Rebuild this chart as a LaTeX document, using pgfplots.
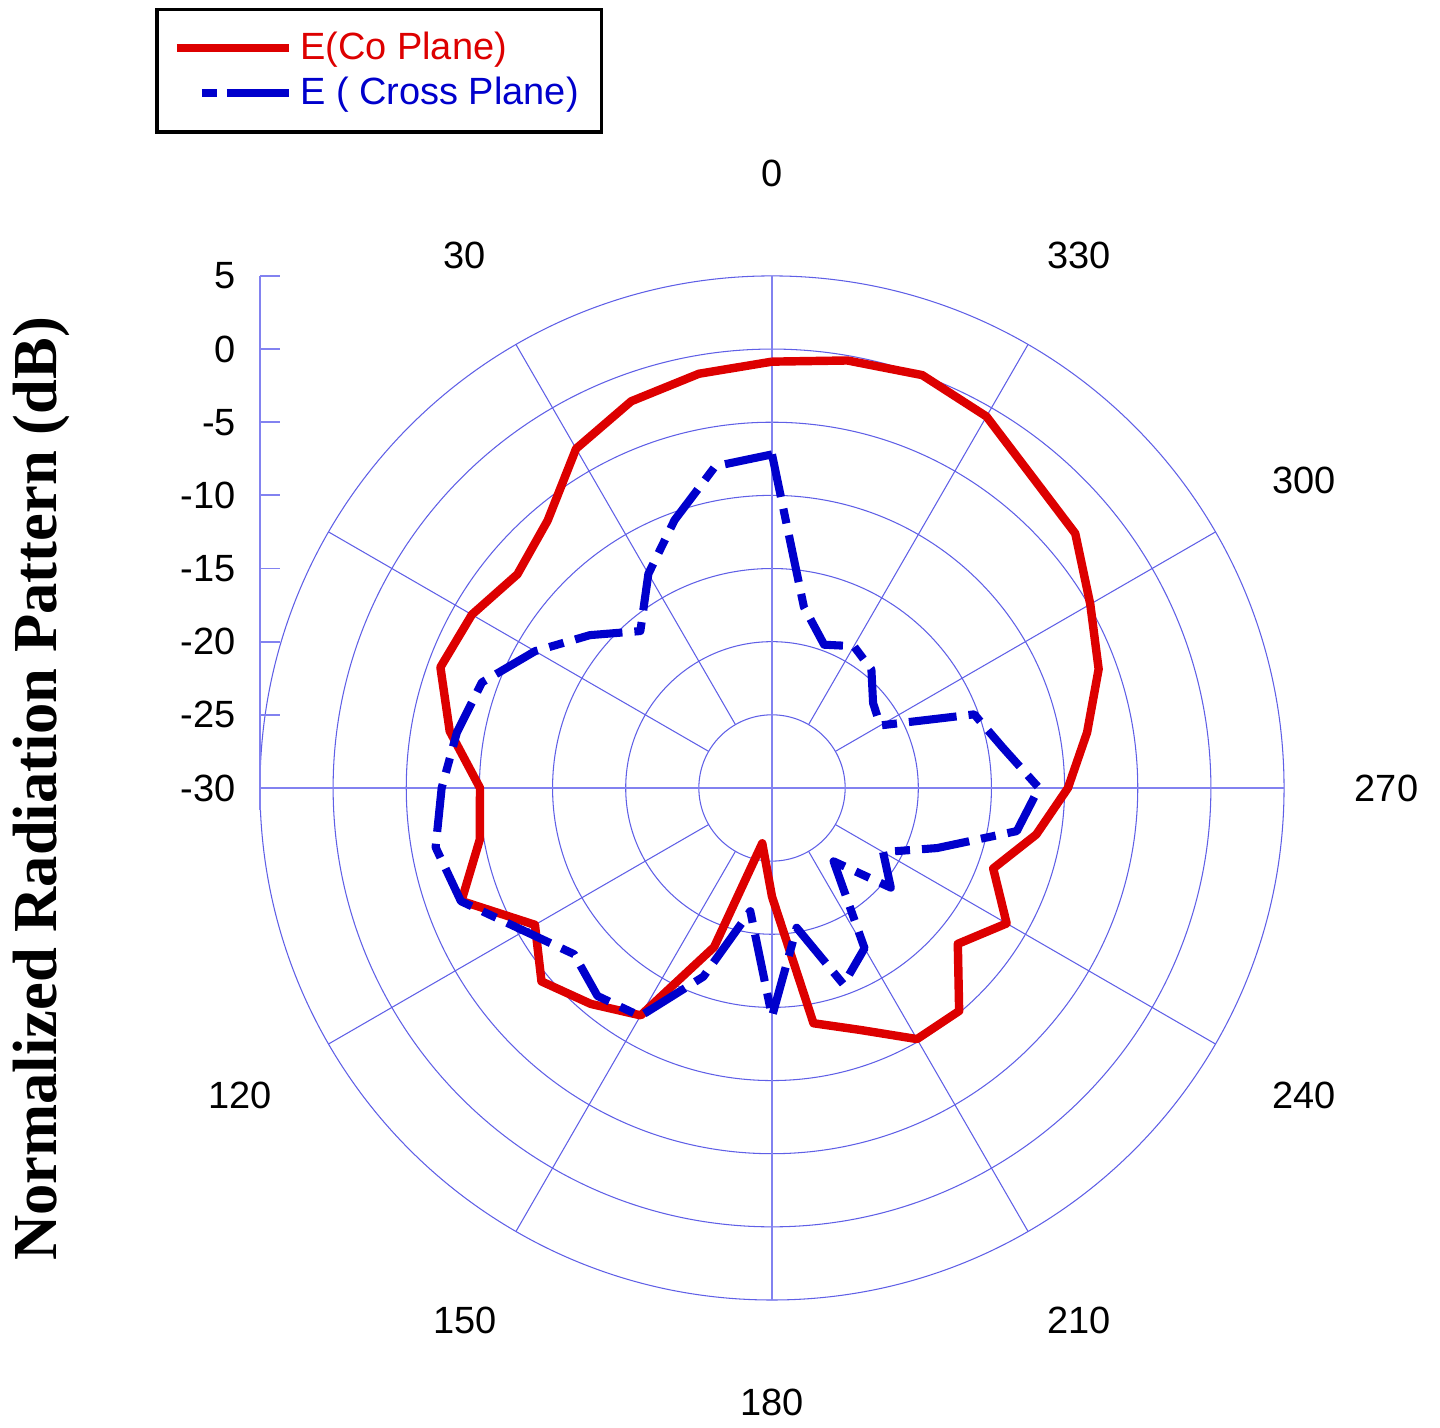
\documentclass[border=0pt]{standalone}
\usepackage{pgfplots}
\pgfplotsset{compat=1.18}
\usepackage{pgfplotstable}
\usepackage{fontspec}
\setmainfont{Liberation Sans}
\newfontfamily\serifbf{Liberation Serif}

\definecolor{cored}{RGB}{221,0,0}
\definecolor{crossblue}{RGB}{0,0,204}
\definecolor{gridblue}{RGB}{95,95,230}
\definecolor{axisblue}{RGB}{130,130,240}

\pgfplotsset{
  redleg/.style={legend image code/.code={\draw[##1] (0cm,0cm) -- (1.12cm,0cm);}},
  blueleg/.style={legend image code/.code={\path (0cm,0cm); \draw[##1, dash pattern=on 0.15cm off 0.1cm on 0.62cm] (0.25cm,0cm) -- (1.12cm,0cm);}},
}

% angle (deg, counter-clockwise from top), level (dB)
\pgfplotstableread{
ang dB
0 -0.86
10 -1.25
20 -1.87
30 -3.22
40 -6.14
50 -7.28
60 -6.31
70 -5.88
80 -7.63
90 -10.04
100 -9.72
110 -7.41
120 -11.29
130 -9.43
140 -10.73
150 -12.05
160 -18.43
170 -26.16
180 -22.57
190 -13.67
200 -12.40
210 -10.18
220 -10.10
230 -13.42
240 -11.48
250 -13.91
260 -11.66
270 -9.77
280 -8.13
290 -6.24
300 -4.88
310 -2.94
320 -2.28
330 -0.68
340 0.03
350 -0.33
360 -0.86
}\copol

\pgfplotstableread{
ang dB
0 -7.20
10 -7.67
20 -10.52
30 -13.10
40 -16.00
50 -13.75
60 -11.30
70 -8.90
80 -8.13
90 -7.42
100 -6.65
110 -7.37
120 -10.45
130 -12.33
140 -11.44
150 -11.99
160 -16.27
170 -21.45
180 -14.37
190 -20.30
200 -15.71
210 -17.35
220 -23.45
230 -19.40
240 -21.23
250 -17.99
260 -13.01
270 -11.75
280 -14.00
290 -15.29
300 -21.45
310 -20.98
320 -19.43
330 -18.81
340 -19.58
350 -17.44
360 -7.20
}\crosspol

\begin{document}
\begin{tikzpicture}[font=\fontsize{10.8}{13}\selectfont]
\begin{axis}[
  scale only axis, width=10.24cm, height=10.24cm,
  xmin=-35, xmax=35, ymin=-35, ymax=35,
  hide axis, clip=false,
  legend cell align=left,
  legend style={at={(-0.1025,1.2617)}, anchor=north west, draw=black,
    line width=1pt, inner xsep=0.16cm, inner ysep=0.15cm, row sep=-0.015cm,
    font=\fontsize{10.8}{13}\selectfont},
]
% grid circles
\pgfplotsinvokeforeach{5,10,...,35}{
  \draw[gridblue, line width=0.3pt] (axis cs:0,0) circle[radius=#1];
}
% spokes
\pgfplotsinvokeforeach{30,60,120,150,210,240,300,330}{
  \draw[gridblue, line width=0.3pt] (axis cs:{-5*sin(#1)},{5*cos(#1)}) -- (axis cs:{-35*sin(#1)},{35*cos(#1)});
}
% main axes
\draw[axisblue, line width=0.8pt] (axis cs:-35,0) -- (axis cs:35,0);
\draw[axisblue, line width=0.8pt] (axis cs:0,-35) -- (axis cs:0,35);
% radial scale at left
\draw[axisblue, line width=0.5pt] (axis cs:-35,35) -- (axis cs:-35,-1.5);
\pgfplotsinvokeforeach{0,5,...,35}{
  \draw[axisblue, line width=0.5pt] (axis cs:-35,#1) -- (axis cs:-33.63,#1);
  \node[anchor=east, inner sep=0pt] at (axis cs:-36.6,#1) {\pgfmathparse{int(#1-30)}\pgfmathresult};
}
% angle labels
\pgfplotsinvokeforeach{0,30,120,150,180,210,240,270,300,330}{
  \node at (axis cs:{-42*sin(#1)},{42*cos(#1)}) {#1};
}
% y label
\node[rotate=90, anchor=base, inner sep=0pt, font=\serifbf\bfseries\fontsize{17.8}{20}\selectfont]
  at (axis cs:-48.9,-0.07) {Normalized Radiation Pattern (dB)};

\addplot[cored, line width=2.4pt, line join=round, redleg]
  table[x expr={-(\thisrow{dB}+30)*sin(\thisrow{ang})}, y expr={(\thisrow{dB}+30)*cos(\thisrow{ang})}] {\copol};
\addlegendentry{\textcolor{cored}{E(Co Plane)}}

\addplot[crossblue, line width=2.3pt, line join=round,
  dash pattern=on 0.48cm off 0.12cm on 0.15cm off 0.12cm, blueleg]
  table[x expr={-(\thisrow{dB}+30)*sin(\thisrow{ang})}, y expr={(\thisrow{dB}+30)*cos(\thisrow{ang})}] {\crosspol};
\addlegendentry{\textcolor{crossblue}{E ( Cross Plane)}}

\path (axis cs:-52.77,-43.74) rectangle (axis cs:45.66,53.86);
\end{axis}
\end{tikzpicture}
\end{document}
